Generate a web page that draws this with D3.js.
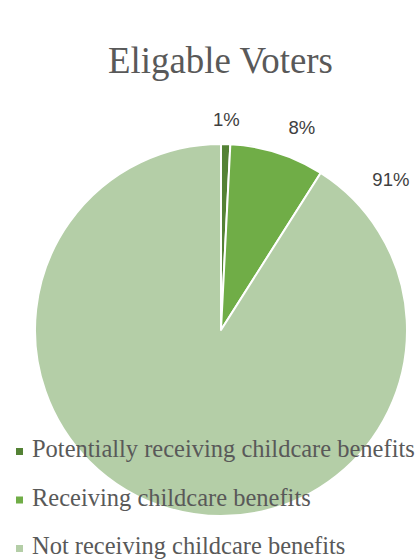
<!DOCTYPE html>
<html>
<head>
<meta charset="utf-8">
<script src="https://cdn.jsdelivr.net/npm/d3@7"></script>
<style>
  html, body { margin: 0; padding: 0; background: #ffffff; }
  svg { display: block; }
</style>
</head>
<body>
<svg id="chart" width="419" height="560"></svg>
<script>
// ---- data ----
const categories = [
  "Potentially receiving childcare benefits",
  "Receiving childcare benefits",
  "Not receiving childcare benefits"
];
const values = [0.8, 8.2, 91.0];
const colors = ["#548235", "#70ad47", "#b4cea7"];
const title = "Eligable Voters";

// ---- layout ----
const W = 419, H = 560;
const cx = 221, cy = 330, R = 186;
const serif = "'Liberation Serif', 'DejaVu Serif', serif";
const sans = "'Liberation Sans', Arial, sans-serif";

const svg = d3.select("#chart");

function fitText(sel, targetWidth, baseSize) {
  sel.attr("font-size", baseSize);
  const w = sel.node().getComputedTextLength();
  sel.attr("font-size", baseSize * targetWidth / w);
}

// title
const t = svg.append("text")
  .attr("x", 220.5).attr("y", 73)
  .attr("text-anchor", "middle")
  .attr("font-family", serif)
  .attr("fill", "#595959")
  .text(title);
fitText(t, 225, 30);

// pie
const pie = d3.pie().sort(null).value(d => d)(values);
const arc = d3.arc().innerRadius(0).outerRadius(R);
const g = svg.append("g").attr("transform", `translate(${cx},${cy})`);
g.selectAll("path").data(pie).join("path")
  .attr("d", arc)
  .attr("fill", (d, i) => colors[i])
  .attr("stroke", "#ffffff")
  .attr("stroke-width", 2)
  .attr("stroke-linejoin", "round");

// data labels (outside end, best-fit like the original)
const labelRadius = [211, 218, 227];
const labelAngleFrac = [0.5, 0.64, 0.049]; // position within each slice
const total = d3.sum(values);
const labelAngle = (d, i) => d.startAngle + (d.endAngle - d.startAngle) * labelAngleFrac[i];
g.selectAll("text.lbl").data(pie).join("text")
  .attr("class", "lbl")
  .attr("x", (d, i) => Math.sin(labelAngle(d, i)) * labelRadius[i])
  .attr("y", (d, i) => -Math.cos(labelAngle(d, i)) * labelRadius[i])
  .attr("dy", "0.35em")
  .attr("text-anchor", "middle")
  .attr("font-family", sans)
  .attr("font-size", 18.5)
  .attr("fill", "#404040")
  .text(d => Math.round(d.value / total * 100) + "%");

// legend
const legend = svg.append("g");
const rows = legend.selectAll("g").data(categories).join("g")
  .attr("transform", (d, i) => `translate(16, ${451.5 + i * 48.5})`);
rows.append("rect")
  .attr("x", 0).attr("y", -3.5).attr("width", 7).attr("height", 7)
  .attr("fill", (d, i) => colors[i]);
const lt = rows.append("text")
  .attr("x", 16).attr("y", 5.5)
  .attr("font-family", serif)
  .attr("fill", "#595959")
  .text(d => d);
// fit legend font size by the longest entry
const first = lt.filter((d, i) => i === 0);
first.attr("font-size", 20);
const w0 = first.node().getComputedTextLength();
lt.attr("font-size", 20 * 383 / w0);
</script>
</body>
</html>
